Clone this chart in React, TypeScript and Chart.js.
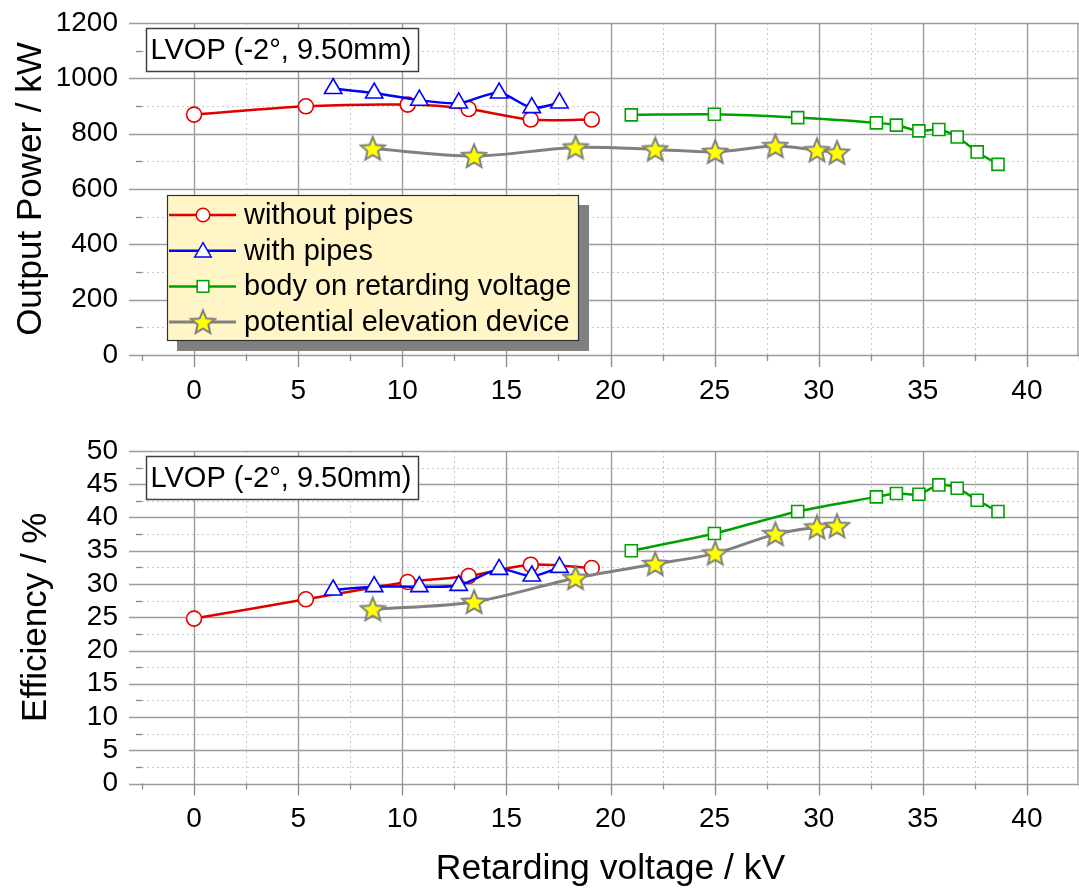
import React, { useEffect, useRef } from "react";
import { Chart, registerables } from "chart.js";

Chart.register(...registerables);

const FONT_FAMILY = "Arial, 'Liberation Sans', Helvetica, sans-serif";

// ---------- data ----------
const seriesLabels = [
  "without pipes",
  "with pipes",
  "body on retarding voltage",
  "potential elevation device",
];
const seriesColors = ["#e00000", "#0000ff", "#00a000", "#808080"];

const redX = [0, 5.37, 10.26, 13.19, 16.17, 19.1];
const redPower = [869, 899, 905, 889, 851, 851];
const redEff = [24.8, 27.7, 30.3, 31.2, 32.9, 32.4];

const blueX = [6.68, 8.65, 10.82, 12.71, 14.65, 16.22, 17.55];
const bluePower = [963, 947, 921, 911, 947, 894, 911];
const blueEff = [29.1, 29.6, 29.6, 29.8, 32.2, 31.2, 32.5];

const greenX = [21.0, 24.99, 28.99, 32.77, 33.73, 34.81, 35.77, 36.65, 37.61, 38.61];
const greenPower = [868, 870, 858, 839, 831, 810, 815, 788, 734, 689];
const greenEff = [35.0, 37.6, 40.9, 43.1, 43.6, 43.5, 44.9, 44.4, 42.6, 40.9];

const grayX = [8.58, 13.45, 18.32, 22.15, 25.03, 27.92, 29.92, 30.88];
const grayPower = [746, 719, 750, 743, 734, 755, 740, 731];
const grayEff = [26.2, 27.3, 30.9, 33.0, 34.6, 37.5, 38.5, 38.7];

// ---------- ticks ----------
const xTickValues = [-2.5, 0, 2.5, 5, 7.5, 10, 12.5, 15, 17.5, 20, 22.5, 25, 27.5, 30, 32.5, 35, 37.5, 40, 42.5];
const xMajorStep = 5;
const powerTickValues = [0, 100, 200, 300, 400, 500, 600, 700, 800, 900, 1000, 1100, 1200];
const powerMajorStep = 200;
const effTickValues = [0, 2.5, 5, 7.5, 10, 12.5, 15, 17.5, 20, 22.5, 25, 27.5, 30, 32.5, 35, 37.5, 40, 42.5, 45, 47.5, 50];
const effMajorStep = 5;

const boxText = "LVOP (-2°, 9.50mm)";
const xTitle = "Retarding voltage / kV";
const powerTitle = "Output Power / kW";
const effTitle = "Efficiency / %";

function isMajor(v: number, step: number) {
  const r = v / step;
  return Math.abs(r - Math.round(r)) < 1e-6;
}

function makeStar(): HTMLCanvasElement {
  const c = document.createElement("canvas");
  c.width = 28;
  c.height = 28;
  const g = c.getContext("2d")!;
  const cx = 14, cy = 14.8, R = 12.5, r = 5.6;
  g.beginPath();
  for (let i = 0; i < 10; i++) {
    const a = -Math.PI / 2 + (i * Math.PI) / 5;
    const rad = i % 2 === 0 ? R : r;
    g.lineTo(cx + rad * Math.cos(a), cy + rad * Math.sin(a));
  }
  g.closePath();
  g.fillStyle = "#ffff00";
  g.fill();
  g.strokeStyle = "#808080";
  g.lineWidth = 2;
  g.lineJoin = "miter";
  g.stroke();
  return c;
}

function drawMarker(ctx: CanvasRenderingContext2D, i: number, x: number, y: number, star: HTMLCanvasElement) {
  ctx.save();
  ctx.setLineDash([]);
  ctx.fillStyle = "#ffffff";
  ctx.strokeStyle = seriesColors[i];
  ctx.lineWidth = 1.5;
  if (i === 0) {
    ctx.beginPath();
    ctx.arc(x, y, 6.8, 0, Math.PI * 2);
    ctx.fill();
    ctx.stroke();
  } else if (i === 1) {
    const r = 9.5;
    ctx.beginPath();
    for (let k = 0; k < 3; k++) {
      const a = (k * 2 * Math.PI) / 3;
      ctx.lineTo(x + Math.sin(a) * r, y - Math.cos(a) * r + 1.5);
    }
    ctx.closePath();
    ctx.fill();
    ctx.stroke();
  } else if (i === 2) {
    const s = 5.8;
    ctx.fillRect(x - s, y - s, 2 * s, 2 * s);
    ctx.strokeRect(x - s, y - s, 2 * s, 2 * s);
  } else {
    ctx.drawImage(star, x - star.width / 2, y - star.height / 2);
  }
  ctx.restore();
}

const decorPlugin = {
  id: "decor",
  beforeDatasetsDraw(chart: any, _args: any, opts: any) {
    const { ctx, chartArea: a } = chart;
    const xs = chart.scales.x;
    const ys = chart.scales.y;
    ctx.save();
    const vline = (p: number, y1: number, y2: number) => {
      ctx.beginPath();
      ctx.moveTo(p, y1);
      ctx.lineTo(p, y2);
      ctx.stroke();
    };
    const hline = (p: number, x1: number, x2: number) => {
      ctx.beginPath();
      ctx.moveTo(x1, p);
      ctx.lineTo(x2, p);
      ctx.stroke();
    };
    // minor grid
    ctx.lineWidth = 1;
    ctx.strokeStyle = "#c8c8c8";
    ctx.setLineDash([2, 3]);
    xs.ticks.forEach((t: any) => {
      if (!isMajor(t.value, opts.xMajor) && t.value > xs.min && t.value < xs.max) {
        const p = Math.round(xs.getPixelForValue(t.value)) + 0.5;
        vline(p, a.top, a.bottom);
      }
    });
    ys.ticks.forEach((t: any) => {
      if (!isMajor(t.value, opts.yMajor) && t.value > ys.min && t.value < ys.max) {
        const p = Math.round(ys.getPixelForValue(t.value)) + 0.5;
        hline(p, a.left, a.right);
      }
    });
    // major grid
    ctx.setLineDash([]);
    ctx.lineWidth = 1.4;
    ctx.strokeStyle = "#9c9c9c";
    xs.ticks.forEach((t: any) => {
      if (isMajor(t.value, opts.xMajor)) {
        const p = Math.round(xs.getPixelForValue(t.value)) + 0.5;
        vline(p, a.top, a.bottom);
      }
    });
    ys.ticks.forEach((t: any) => {
      if (isMajor(t.value, opts.yMajor)) {
        const p = Math.round(ys.getPixelForValue(t.value)) + 0.5;
        hline(p, a.left - 13, a.right);
      }
    });
    // right frame
    vline(a.right - 1, a.top, a.bottom);
    // tick marks
    ctx.strokeStyle = "#8a8a8a";
    ctx.lineWidth = 1.3;
    xs.ticks.forEach((t: any) => {
      const p = Math.round(xs.getPixelForValue(t.value)) + 0.5;
      const len = isMajor(t.value, opts.xMajor) ? 12 : 6;
      vline(p, a.bottom, a.bottom + len);
    });
    ys.ticks.forEach((t: any) => {
      if (!isMajor(t.value, opts.yMajor)) {
        const p = Math.round(ys.getPixelForValue(t.value)) + 0.5;
        hline(p, a.left - 6, a.left);
      }
    });
    ctx.restore();
  },
  afterDatasetsDraw(chart: any, _args: any, opts: any) {
    const { ctx } = chart;
    ctx.save();
    // annotation box
    ctx.fillStyle = "#ffffff";
    ctx.fillRect(146, 28, 272, 43);
    ctx.strokeStyle = "#404040";
    ctx.lineWidth = 1.5;
    ctx.strokeRect(146.5, 28.5, 272, 43);
    ctx.fillStyle = "#000000";
    ctx.font = `29px ${FONT_FAMILY}`;
    ctx.textBaseline = "middle";
    ctx.textAlign = "left";
    ctx.fillText(boxText, 150.5, 51);

    if (opts.legend) {
      const star = opts.star;
      // shadow
      ctx.fillStyle = "#808080";
      ctx.fillRect(177, 205, 412, 146);
      ctx.fillStyle = "#fff5c6";
      ctx.fillRect(167, 195, 412, 146);
      ctx.strokeStyle = "#303030";
      ctx.lineWidth = 1.2;
      ctx.strokeRect(167.5, 195.5, 411, 145);
      ctx.font = `29px ${FONT_FAMILY}`;
      for (let i = 0; i < seriesLabels.length; i++) {
        const y = 215 + i * 35.7;
        ctx.strokeStyle = seriesColors[i];
        ctx.lineWidth = i === 3 ? 3 : 2.5;
        ctx.setLineDash([]);
        ctx.beginPath();
        ctx.moveTo(169, y);
        ctx.lineTo(236, y);
        ctx.stroke();
        drawMarker(ctx, i, 203, y, star);
        ctx.fillStyle = "#000000";
        ctx.textBaseline = "middle";
        ctx.fillText(seriesLabels[i], 244, y + 1);
      }
    }
    ctx.restore();
  },
};

function makeDatasets(ys: number[][], star: HTMLCanvasElement) {
  const xsArr = [redX, blueX, greenX, grayX];
  const styles: any[] = ["circle", "triangle", "rect", star];
  const radii = [7.5, 10, 8.5, 14];
  const widths = [2.5, 2.5, 2.5, 3];
  const orders = [4, 3, 2, 1];
  return xsArr.map((xa, i) => ({
    label: seriesLabels[i],
    data: xa.map((x, k) => ({ x, y: ys[i][k] })),
    borderColor: seriesColors[i],
    backgroundColor: seriesColors[i],
    borderWidth: widths[i],
    tension: 0.3,
    pointStyle: styles[i],
    pointRadius: radii[i],
    pointBackgroundColor: "#ffffff",
    pointBorderColor: seriesColors[i],
    pointBorderWidth: 1.6,
    order: orders[i],
    clip: false as any,
  }));
}

function zeroPad(s: any) {
  s.paddingTop = 0;
  s.paddingBottom = 0;
  s.paddingLeft = 0;
  s.paddingRight = 0;
}

function makeConfig(opts: {
  ys: number[][];
  yMin: number;
  yMax: number;
  yTicks: number[];
  yMajor: number;
  yTitle: string;
  yTitlePad: number;
  xHeight: number;
  showXTitle: boolean;
  legend: boolean;
  star: HTMLCanvasElement;
}): any {
  return {
    type: "line",
    data: { datasets: makeDatasets(opts.ys, opts.star) },
    plugins: [decorPlugin],
    options: {
      animation: false,
      responsive: false,
      events: [],
      layout: { autoPadding: false, padding: { top: 23, left: 0, right: 0, bottom: 0 } },
      plugins: {
        legend: { display: false },
        tooltip: { enabled: false },
        decor: { xMajor: xMajorStep, yMajor: opts.yMajor, legend: opts.legend, star: opts.star },
      },
      scales: {
        x: {
          type: "linear",
          min: -2.5,
          max: 42.5,
          grid: { display: false, drawTicks: false },
          border: { display: false },
          afterBuildTicks: (s: any) => {
            s.ticks = xTickValues.map((v) => ({ value: v }));
          },
          afterFit: (s: any) => {
            s.height = opts.xHeight;
            zeroPad(s);
          },
          ticks: {
            autoSkip: false,
            maxRotation: 0,
            padding: 19,
            color: "#000000",
            font: { family: FONT_FAMILY, size: 28 },
            callback: (v: any) => (isMajor(Number(v), xMajorStep) ? String(v) : ""),
          },
          title: {
            display: opts.showXTitle,
            text: xTitle,
            color: "#000000",
            font: { family: FONT_FAMILY, size: 35.5, lineHeight: 1.2 },
            padding: { top: 0, bottom: 0 },
          },
        },
        y: {
          type: "linear",
          min: opts.yMin,
          max: opts.yMax,
          grid: { display: false, drawTicks: false },
          border: { display: false },
          afterBuildTicks: (s: any) => {
            s.ticks = opts.yTicks.map((v) => ({ value: v }));
          },
          afterFit: (s: any) => {
            s.width = 142;
            zeroPad(s);
          },
          ticks: {
            autoSkip: false,
            padding: 24,
            color: "#000000",
            font: { family: FONT_FAMILY, size: 28 },
            callback: (v: any) => (isMajor(Number(v), opts.yMajor) ? String(v) : ""),
          },
          title: {
            display: true,
            text: opts.yTitle,
            color: "#000000",
            font: { family: FONT_FAMILY, size: 35, lineHeight: 1.2 },
            padding: { top: opts.yTitlePad, bottom: 0 },
          },
        },
      },
    },
  };
}

export default function App() {
  const topRef = useRef<HTMLCanvasElement>(null);
  const botRef = useRef<HTMLCanvasElement>(null);

  useEffect(() => {
    const star = makeStar();
    const c1 = new Chart(
      topRef.current!,
      makeConfig({
        ys: [redPower, bluePower, greenPower, grayPower],
        yMin: 0,
        yMax: 1200,
        yTicks: powerTickValues,
        yMajor: powerMajorStep,
        yTitle: powerTitle,
        yTitlePad: 10,
        xHeight: 73,
        showXTitle: false,
        legend: true,
        star,
      })
    );
    const c2 = new Chart(
      botRef.current!,
      makeConfig({
        ys: [redEff, blueEff, greenEff, grayEff],
        yMin: 0,
        yMax: 50,
        yTicks: effTickValues,
        yMajor: effMajorStep,
        yTitle: effTitle,
        yTitlePad: 15,
        xHeight: 107.5,
        showXTitle: true,
        legend: false,
        star,
      })
    );
    return () => {
      c1.destroy();
      c2.destroy();
    };
  }, []);

  return (
    <div style={{ position: "absolute", left: 0, top: 0, width: 1079, height: 891, background: "#ffffff" }}>
      <canvas
        ref={topRef}
        width={1079}
        height={428}
        style={{ position: "absolute", left: 0, top: 0, width: 1079, height: 428, display: "block" }}
      />
      <canvas
        ref={botRef}
        width={1079}
        height={463}
        style={{ position: "absolute", left: 0, top: 428, width: 1079, height: 463, display: "block" }}
      />
    </div>
  );
}
